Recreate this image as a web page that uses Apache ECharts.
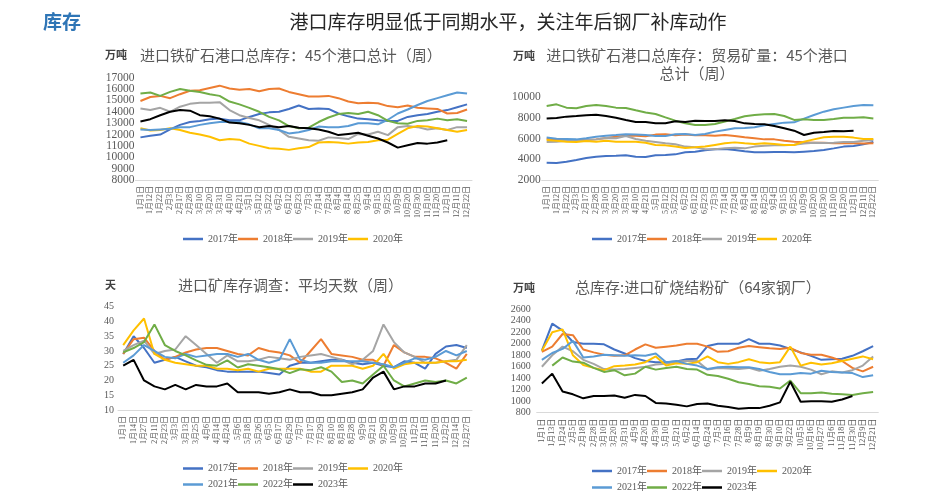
<!DOCTYPE html>
<html><head><meta charset="utf-8">
<script src="https://cdn.jsdelivr.net/npm/echarts@6/dist/echarts.min.js"></script>
<style>html,body{margin:0;padding:0;background:#fff}#c{width:945px;height:492px}</style>
</head><body><div id="c"></div>
<script>
const YEARS = ['2017年','2018年','2019年','2020年','2021年','2022年','2023年'];
const COLORS = ['#4472C4','#ED7D31','#A5A5A5','#FFC000','#5B9BD5','#70AD47','#000000'];

// Chart 1: 进口铁矿石港口总库存：45个港口总计（周）
const cats1 = ['1月1日','1月12日','1月22日','2月3日','2月17日','2月28日','3月10日','3月20日','3月31日','4月10日','4月21日','5月1日','5月12日','5月22日','6月2日','6月12日','6月23日','7月3日','7月14日','7月24日','8月4日','8月14日','8月25日','9月4日','9月15日','9月25日','10月9日','10月20日','10月30日','11月10日','11月20日','12月1日','12月11日','12月22日'];
const c1_2017 = [11750,11900,12000,12450,12850,13100,13200,13350,13400,13250,13250,13550,13800,13950,14000,14250,14550,14250,14300,14250,13850,13600,13400,13350,13250,13200,13200,13550,13700,13800,14000,14150,14400,14650];
const c1_2018 = [14950,15300,15400,15200,15550,15850,15900,16100,16300,16050,15950,16000,15800,16000,16050,15750,15550,15350,15350,15400,15200,14900,14750,14800,14750,14500,14400,14550,14350,14300,14250,13850,13900,14200];
const c1_2019 = [14300,14150,14350,14000,14450,14700,14800,14800,14850,14150,13700,13450,13250,12850,12400,11800,11650,11500,11450,11750,11700,11600,12050,12000,12250,11950,12650,12750,12650,12450,12550,12400,12650,12650];
const c1_2020 = [12550,12350,12400,12550,12400,12150,12000,11800,11500,11600,11550,11200,11000,10800,10750,10650,10800,10900,11300,11350,11300,11200,11300,11350,11500,11550,12050,12550,12750,12700,12550,12400,12250,12400];
const c1_2021 = [12450,12400,12450,12500,12650,12650,12850,13000,13100,13100,13100,12900,12550,12550,12400,12100,12200,12400,12700,12650,12650,12750,13000,13000,12900,13300,13850,14200,14600,14950,15200,15450,15700,15600];
const c1_2022 = [15600,15700,15400,15750,16000,15850,15750,15550,15400,14900,14650,14350,14000,13550,13250,12750,12550,12600,13100,13500,13800,13900,13800,14000,13700,13200,13000,12950,13200,13250,13400,13250,13350,13200];
const c1_2023 = [13150,13350,13700,14000,14150,14100,13700,13600,13400,13050,13000,12850,12650,12750,12650,12750,12600,12550,12450,12250,11950,12050,12150,11900,11650,11300,10850,11050,11250,11200,11300,11500];

// Chart 2: 进口铁矿石港口总库存：贸易矿量：45个港口总计（周）
const cats2 = cats1;
const c2_2017 = [3680,3650,3770,3940,4130,4260,4320,4350,4390,4260,4230,4390,4420,4480,4680,4740,4870,4970,5000,4900,4770,4680,4680,4710,4710,4680,4740,4800,4900,5060,5230,5290,5450,5680];
const c2_2018 = [6000,5930,5870,5870,5870,5930,6060,6190,6290,6290,6230,6390,6420,6320,6390,6320,6320,6290,6350,6260,6130,6030,5930,5930,5800,5710,5640,5610,5610,5550,5550,5550,5520,5550];
const c2_2019 = [5680,5710,5800,5770,5870,5930,6060,6030,6260,5970,5800,5680,5550,5450,5230,5160,4970,4970,5060,5130,5060,5230,5320,5350,5350,5420,5520,5610,5580,5610,5680,5680,5800,5870];
const c2_2020 = [5870,5800,5710,5680,5770,5710,5800,5710,5710,5710,5610,5390,5350,5230,5100,5160,5230,5390,5550,5640,5550,5480,5550,5480,5390,5390,5710,5930,6130,6190,6190,6100,5970,5970];
const c2_2021 = [6100,6000,5970,5930,6030,6190,6290,6350,6420,6390,6350,6260,6260,6420,6450,6350,6450,6680,6840,7000,7030,7100,7290,7420,7550,7580,7940,8290,8610,8840,9000,9160,9260,9230];
const c2_2022 = [9160,9320,9000,8940,9160,9260,9160,9000,8970,8740,8520,8390,8060,7740,7480,7320,7320,7420,7650,7900,8160,8290,8350,8390,8190,7810,7870,7810,7810,7900,8030,8030,8060,7940];
const c2_2023 = [7940,8000,8130,8190,8260,8320,8190,8030,7810,7610,7610,7480,7480,7680,7610,7740,7710,7710,7770,7710,7480,7420,7390,7230,7000,6770,6350,6580,6650,6740,6710,6770];

// Chart 3: 进口矿库存调查：平均天数（周）
const cats3 = ['1月1日','1月14日','1月27日','2月11日','2月23日','3月3日','3月13日','3月25日','4月6日','4月14日','4月24日','5月6日','5月18日','5月26日','6月5日','6月17日','6月29日','7月7日','7月17日','7月29日','8月10日','8月18日','8月28日','9月9日','9月21日','9月29日','10月9日','10月21日','11月2日','11月11日','11月20日','12月2日','12月14日','12月27日'];
const c3_2017 = [29,35,31,26,27,28,26.5,25,24.5,23.5,23,23,23,23,22.5,22,25,26,26,26.5,27,27,26,25.5,26,25,24.5,26.5,26,24,29,31.5,32,31];
const c3_2018 = [29,34,34.5,30,27,28,29.5,30.5,31,31,30,29,28.5,31,30,29.5,28.5,26,30,34,29,28.5,28,27,27,25,32,29.5,28,28,27.5,26,24,29];
const c3_2019 = [30,32,33.5,29,30,30.5,35,32,29,26,28.5,26.5,26.5,27,28,27.5,27,28,28.5,29,28,27,25.5,27,30,39,33,29.5,28,26,26,26.5,27,32];
const c3_2020 = [32,37,41,29,27,26,25.5,25,25,24,24,23.5,24,23,24,24,24,24,23,23,25,25,25,24,25,29,24,25.5,26,26,26,26.5,26.5,27];
const c3_2021 = [26,28.5,32,30,28,27.5,29,28,28.5,29,29,28,29,27,26,27,34,27,26,26,26.5,26.5,26.5,26.5,26,25.5,24.5,26,27.5,27,28,30,28.5,30];
const c3_2022 = [29.5,31,33,39,32,30,28.5,26.8,25.3,25,26.8,24.4,25.5,25,24.5,23.8,22.5,23.8,23.5,24.5,23,19.5,20,19,22,25,20,18,19,20,19.5,20,19,21];
const c3_2023 = [25,27,20,18,17,18.5,17,18.5,18,18,19,16,16,16,15.5,16,17,16,16,15,15,15.5,16,17,21,23,17,18,18,19,19,20];

// Chart 4: 总库存:进口矿烧结粉矿（64家钢厂）
const cats4 = ['1月1日','1月13日','1月24日','2月5日','2月18日','2月28日','3月10日','3月20日','3月31日','4月9日','4月20日','4月30日','5月10日','5月21日','6月2日','6月14日','6月24日','7月5日','7月16日','7月28日','8月9日','8月19日','8月30日','9月10日','9月22日','10月5日','10月16日','10月27日','11月6日','11月18日','11月30日','12月9日','12月21日'];
const c4_2017 = [1880,2350,2230,2030,2000,2000,1990,1900,1830,1750,1700,1680,1680,1690,1730,1740,1960,2000,2000,2000,2080,2000,2000,1970,1910,1850,1790,1720,1730,1740,1790,1870,1960];
const c4_2018 = [1860,1950,2170,2150,1900,1850,1810,1790,1800,1900,1990,1930,1950,1970,2000,2000,1950,1860,1870,1930,1960,1940,1920,1910,1930,1840,1810,1810,1760,1700,1580,1520,1600];
const c4_2019 = [1600,1800,1950,1870,1720,1650,1560,1550,1560,1580,1600,1640,1650,1690,1700,1700,1550,1580,1570,1560,1580,1530,1560,1600,1620,1600,1550,1470,1520,1500,1540,1620,1780];
const c4_2020 = [1880,2200,2250,1800,1630,1580,1540,1610,1620,1640,1680,1780,1620,1660,1650,1680,1780,1680,1650,1680,1730,1680,1660,1680,1950,1620,1670,1640,1660,1700,1740,1780,1730];
const c4_2021 = [1720,1840,1910,2050,1760,1780,1810,1800,1790,1800,1790,1830,1680,1700,1650,1620,1560,1590,1600,1590,1590,1560,1510,1470,1470,1490,1480,1530,1510,1500,1490,1420,1450];
const c4_2022 = [null,1620,1760,1690,1670,1580,1510,1540,1450,1480,1600,1550,1580,1600,1560,1550,1460,1440,1390,1330,1300,1260,1250,1220,1360,1140,1140,1150,1130,1120,1110,1140,1160];
const c4_2023 = [1310,1480,1170,1120,1050,1090,1090,1100,1060,1110,1090,970,960,940,910,950,960,920,900,870,880,880,920,980,1340,990,1000,1000,990,1030,1090];

const SERIF = "'Liberation Serif','Noto Sans CJK SC',serif";
const CJK = "'Noto Sans CJK SC','Noto Sans',sans-serif";
const GREY = '#595959';

const chart = echarts.init(document.getElementById('c'), null, {renderer: 'canvas'});

const grids = [
  {left: 135.5, top: 77.7, width: 336.5, height: 102.3},
  {left: 541.7, top: 97.3, width: 336.6, height: 82.7},
  {left: 118, top: 306.7, width: 354, height: 103.3},
  {left: 536.7, top: 309.3, width: 341.6, height: 103.4}
];
const catsAll = [cats1, cats2, cats3, cats4];
const yCfg = [
  {min: 8000, max: 17000, interval: 1000, fs: 11.5, margin: 1},
  {min: 2000, max: 10000, interval: 2000, fs: 11.5, margin: 1},
  {min: 10, max: 45, interval: 5, fs: 10, margin: 4},
  {min: 800, max: 2600, interval: 200, fs: 10, margin: 6}
];
const dataAll = [
  [c1_2017, c1_2018, c1_2019, c1_2020, c1_2021, c1_2022, c1_2023],
  [c2_2017, c2_2018, c2_2019, c2_2020, c2_2021, c2_2022, c2_2023],
  [c3_2017, c3_2018, c3_2019, c3_2020, c3_2021, c3_2022, c3_2023],
  [c4_2017, c4_2018, c4_2019, c4_2020, c4_2021, c4_2022, c4_2023]
];

const xAxis = catsAll.map((cats, i) => ({
  type: 'category', gridIndex: i, data: cats, boundaryGap: true,
  axisLine: {show: true, onZero: false, lineStyle: {color: '#D9D9D9', width: 1}},
  axisTick: {show: false},
  axisLabel: {interval: 0, rotate: 90, fontSize: 8, color: GREY, margin: 6, fontFamily: SERIF},
  splitLine: {show: false}
}));
const yAxis = yCfg.map((c, i) => ({
  type: 'value', gridIndex: i, min: c.min, max: c.max, interval: c.interval,
  axisLine: {show: false}, axisTick: {show: false}, splitLine: {show: false},
  axisLabel: {fontSize: c.fs, color: GREY, margin: c.margin, fontFamily: SERIF,
    showMinLabel: true, showMaxLabel: true, hideOverlap: false,
    formatter: function (v) { return String(v); }}
}));

const series = [];
dataAll.forEach((arrs, gi) => {
  arrs.forEach((d, j) => {
    series.push({
      type: 'line', name: YEARS[j], xAxisIndex: gi, yAxisIndex: gi, data: d,
      symbol: 'none', showSymbol: false, connectNulls: false,
      lineStyle: {width: 2, color: COLORS[j]}, itemStyle: {color: COLORS[j]},
      emphasis: {disabled: true}, silent: true
    });
  });
});

function legend(items, left, top) {
  return {
    data: items, left: left, top: top, orient: 'horizontal', padding: 0,
    icon: 'rect', itemWidth: 20, itemHeight: 2.5, itemGap: 0, selectedMode: false,
    textStyle: {fontSize: 10, color: GREY, fontFamily: SERIF, padding: [0, 0, 0, 0]}
  };
}

function txt(x, y, text, font, fill, align) {
  return {type: 'text', x: x, y: y, silent: true,
    style: {text: text, font: font, fill: fill, textAlign: align || 'left', textVerticalAlign: 'middle'}};
}

const titleFont = "15px " + CJK;
const unitFont = "bold 11px " + CJK;

chart.setOption({
  animation: false,
  backgroundColor: '#ffffff',
  grid: grids,
  xAxis: xAxis,
  yAxis: yAxis,
  series: series,
  legend: [
    legend(YEARS.slice(0, 4), 183, 234),
    legend(YEARS.slice(0, 4), 592, 234),
    legend(YEARS.slice(0, 4), 183, 463.5),
    legend(YEARS.slice(4), 183, 479.5),
    legend(YEARS.slice(0, 4), 592, 466),
    legend(YEARS.slice(4), 592, 482.5)
  ],
  graphic: [
    txt(43, 22, '库存', "bold 19px " + CJK, '#2E75B6'),
    txt(508, 22, '港口库存明显低于同期水平，关注年后钢厂补库动作', "19px " + CJK, '#262626', 'center'),
    txt(105, 55, '万吨', unitFont, '#404040'),
    txt(140, 55, '进口铁矿石港口总库存：45个港口总计（周）', titleFont, GREY),
    txt(513, 55.5, '万吨', unitFont, '#404040'),
    txt(697, 55.5, '进口铁矿石港口总库存：贸易矿量：45个港口', titleFont, GREY, 'center'),
    txt(697, 73.5, '总计（周）', titleFont, GREY, 'center'),
    txt(105, 285, '天', unitFont, '#404040'),
    txt(178, 285, '进口矿库存调查：平均天数（周）', titleFont, GREY),
    txt(513, 287.5, '万吨', unitFont, '#404040'),
    txt(575, 287.5, '总库存:进口矿烧结粉矿（64家钢厂）', titleFont, GREY)
  ]
});
</script>
</body></html>
